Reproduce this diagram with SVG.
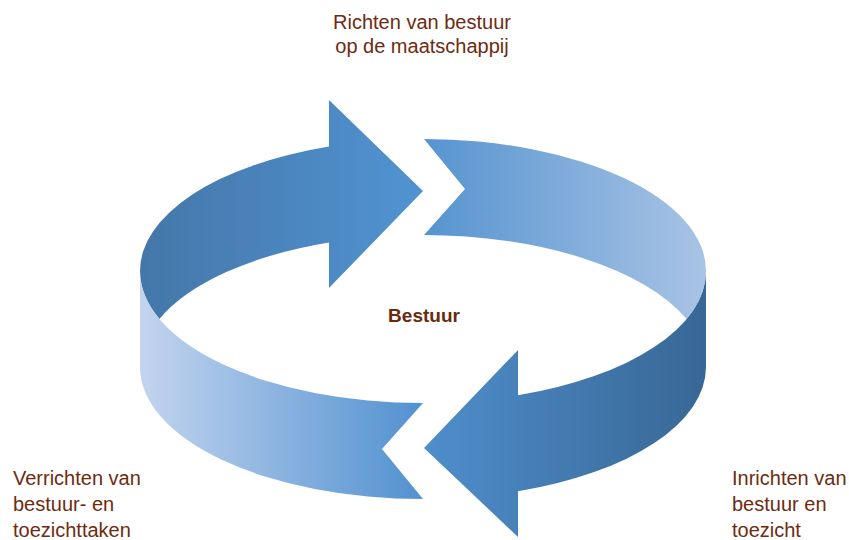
<svg xmlns="http://www.w3.org/2000/svg" width="849" height="540" viewBox="0 0 849 540">
  <style>
    .lbl { font-family: "Liberation Sans", Arial, sans-serif; font-size: 20px; fill: #6E2B10; }
    .ctr { font-family: "Liberation Sans", Arial, sans-serif; font-size: 19px; font-weight: bold; fill: #6A2A0C; }
  </style>
  <defs>
    <linearGradient id="g1" gradientUnits="userSpaceOnUse" x1="140" y1="0" x2="423" y2="0">
      <stop offset="0" stop-color="#4477A9"/>
      <stop offset="1" stop-color="#5193D2"/>
    </linearGradient>
    <linearGradient id="g2" gradientUnits="userSpaceOnUse" x1="424" y1="0" x2="706" y2="0">
      <stop offset="0" stop-color="#5694D0"/>
      <stop offset="1" stop-color="#A9C3E5"/>
    </linearGradient>
    <linearGradient id="g3" gradientUnits="userSpaceOnUse" x1="424" y1="0" x2="706" y2="0">
      <stop offset="0" stop-color="#4F8ECC"/>
      <stop offset="1" stop-color="#386795"/>
    </linearGradient>
    <linearGradient id="g4" gradientUnits="userSpaceOnUse" x1="140" y1="0" x2="423" y2="0">
      <stop offset="0" stop-color="#C3D4EF"/>
      <stop offset="1" stop-color="#5191D0"/>
    </linearGradient>
  </defs>
  <rect width="849" height="540" fill="#FFFFFF"/>
  <g id="connectors">
    <path id="arrow-top-left" fill="url(#g1)" d="M 140 271 A 283 132 0 0 1 329 146.5 L 329 100 L 423 191 L 329 288 L 329 242.5 A 283 132 0 0 0 159.4 319 A 283 132 0 0 1 140 271 Z"/>
    <path id="arrow-front-right" fill="url(#g3)" d="M 706 271 L 706 367 A 283 132 0 0 1 518 491.3 L 518 537 L 424 448 L 518 350 L 518 395.3 A 283 132 0 0 0 706 271 Z"/>
    <path id="arrow-top-right" fill="url(#g2)" d="M 424 139 A 283 132 0 0 1 706 271 A 283 132 0 0 1 686.6 319 A 283 132 0 0 0 424 235 L 465 189 Z"/>
    <path id="arrow-front-left" fill="url(#g4)" d="M 423 403 A 283 132 0 0 1 140 271 L 140 367 A 283 132 0 0 0 423 499 L 382 449 Z"/>
  </g>
  <g id="node-richten">
    <text class="lbl" x="422" y="29" text-anchor="middle">Richten van bestuur</text>
    <text class="lbl" x="422" y="53" text-anchor="middle">op de maatschappij</text>
  </g>
  <g id="node-bestuur">
    <text class="ctr" x="424" y="322" text-anchor="middle">Bestuur</text>
  </g>
  <g id="node-verrichten">
    <text class="lbl" x="13" y="485">Verrichten van</text>
    <text class="lbl" x="13" y="511">bestuur- en</text>
    <text class="lbl" x="13" y="537">toezichttaken</text>
  </g>
  <g id="node-inrichten">
    <text class="lbl" x="732" y="485">Inrichten van</text>
    <text class="lbl" x="732" y="511">bestuur en</text>
    <text class="lbl" x="732" y="537">toezicht</text>
  </g>
</svg>
